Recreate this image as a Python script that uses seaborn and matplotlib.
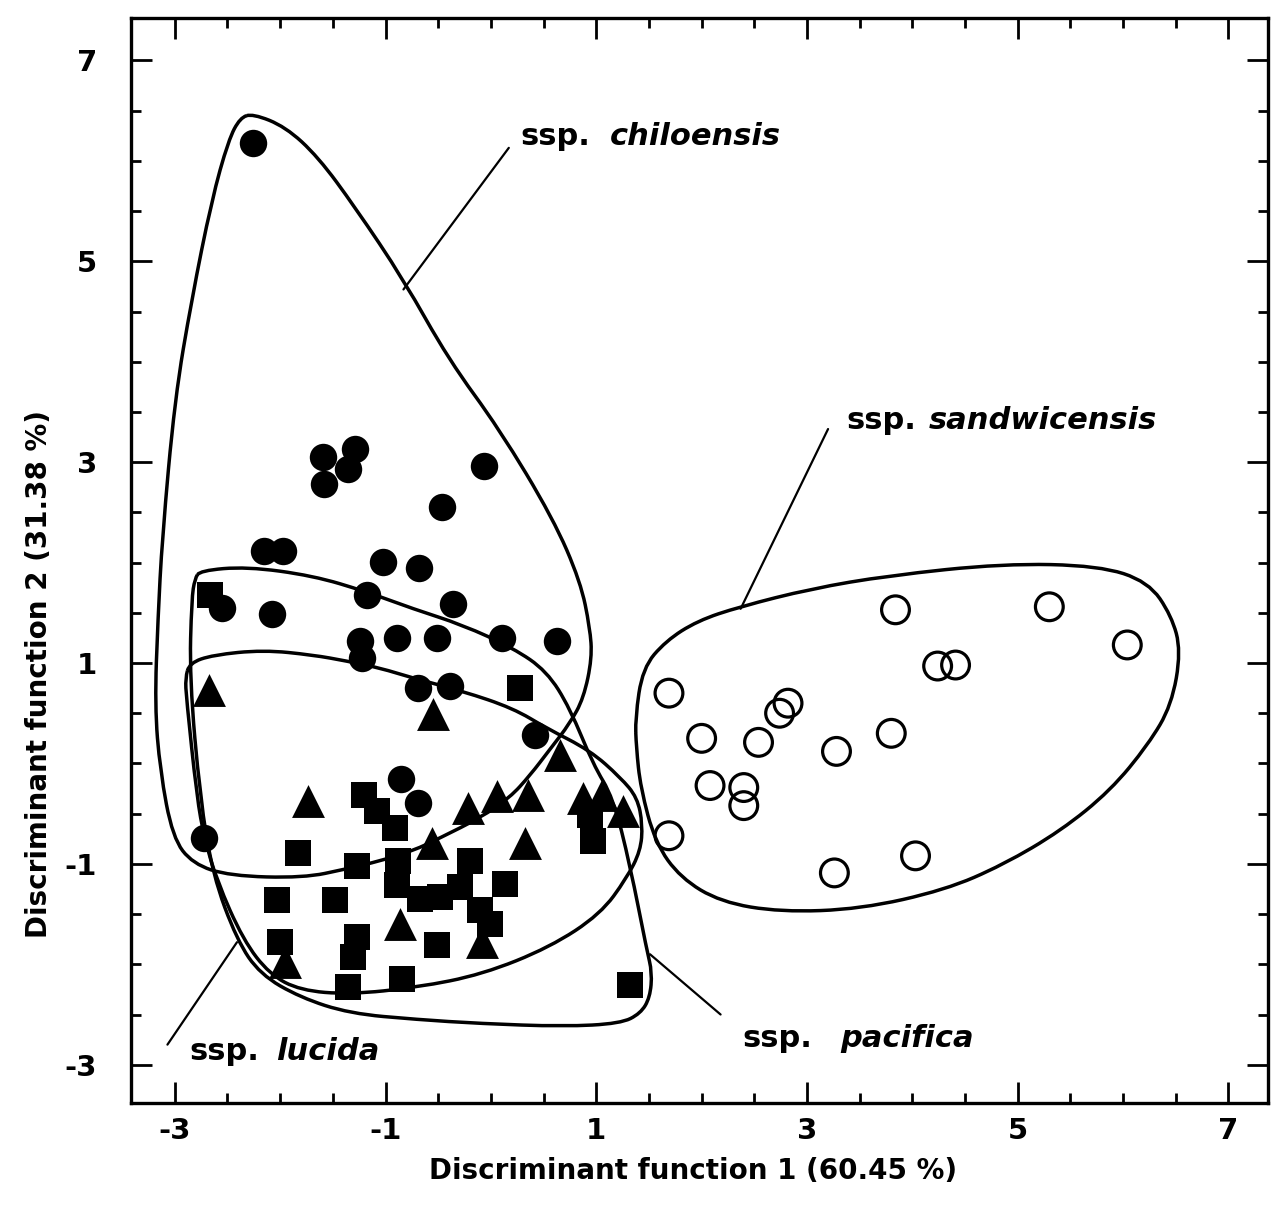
import numpy as np
import pandas as pd

import matplotlib
matplotlib.use('Agg')
import matplotlib.pyplot as plt
from matplotlib.path import Path
from matplotlib.patches import PathPatch
from matplotlib.ticker import MultipleLocator
import seaborn as sns

sns.set_style('ticks')
plt.rcParams['font.family'] = ['DejaVu Sans']
plt.rcParams.update({'text.color': 'black', 'axes.labelcolor': 'black',
                     'xtick.color': 'black', 'ytick.color': 'black',
                     'axes.edgecolor': 'black'})

# =========================
#  DATA
# =========================

# ssp. chiloensis - filled circles
chil_x = [-2.26, -1.59, -1.29, -1.36, -1.58, -0.07, -0.46, -2.15, -1.97, -1.02,
          -0.68, -2.55, -2.08, -1.18, -0.36, -1.24, -1.22, -0.89, -0.51, 0.11,
          0.63, -0.69, -0.39, 0.42, -0.85, -0.69, -2.72]
chil_y = [6.18, 3.05, 3.13, 2.93, 2.78, 2.96, 2.55, 2.12, 2.12, 2.01,
          1.95, 1.55, 1.49, 1.68, 1.59, 1.22, 1.05, 1.25, 1.25, 1.25,
          1.22, 0.75, 0.77, 0.28, -0.15, -0.39, -0.74]

# ssp. lucida - triangles
luc_x = [-2.68, -0.55, 0.66, -1.74, -0.56, -0.22, 0.06, 0.35, 0.87, 1.05,
         1.25, 0.32, -0.86, -0.08, -1.95]
luc_y = [0.73, 0.49, 0.08, -0.37, -0.79, -0.44, -0.32, -0.31, -0.34, -0.31,
         -0.47, -0.79, -1.60, -1.78, -1.98]

# ssp. pacifica - squares
pac_x = [-2.67, 0.28, -1.20, -1.08, -0.91, 0.94, 0.97, -1.83, -1.27, -0.88,
         -0.20, 0.13, -2.03, -1.48, -0.89, -0.67, -0.48, -0.29, -0.10, -0.01,
         -2.00, -1.27, -1.31, -0.51, -1.36, -0.84, 1.32]
pac_y = [1.68, 0.75, -0.31, -0.47, -0.64, -0.51, -0.77, -0.89, -1.02, -0.97,
         -0.97, -1.20, -1.36, -1.36, -1.21, -1.35, -1.33, -1.23, -1.46, -1.60,
         -1.78, -1.73, -1.93, -1.81, -2.23, -2.15, -2.21]

# ssp. sandwicensis - open circles
sand_x = [1.69, 2.82, 2.74, 2.00, 2.54, 3.28, 3.80, 3.84, 5.30, 6.04,
          4.24, 4.41, 2.08, 2.40, 2.40, 1.69, 3.26, 4.03]
sand_y = [0.70, 0.60, 0.50, 0.25, 0.21, 0.12, 0.30, 1.53, 1.56, 1.18,
          0.97, 0.98, -0.22, -0.24, -0.42, -0.72, -1.09, -0.92]

# hand drawn envelopes round each group
chil_hull_x = [-2.26, -1.95, -1.64, -1.29, -0.83, -0.40, 0.08, 0.59, 0.85, 0.94,
               0.96, 0.88, 0.75, 0.56, 0.37, 0.18, -0.10, -0.48, -0.74, -1.05,
               -1.37, -1.78, -2.48, -2.83, -3.02, -3.14, -3.19, -3.16, -3.12, -3.00,
               -2.84, -2.65, -2.49, -2.38]
chil_hull_y = [6.47, 6.34, 6.04, 5.54, 4.82, 4.02, 3.33, 2.44, 1.81, 1.35,
               1.05, 0.65, 0.40, 0.14, -0.12, -0.34, -0.54, -0.74, -0.87, -0.97,
               -1.05, -1.14, -1.12, -1.00, -0.74, -0.07, 0.58, 1.44, 2.24, 3.63,
               4.62, 5.61, 6.21, 6.43]

pac_hull_x = [-2.76, -2.32, -1.69, -1.18, -0.74, -0.27, 0.21, 0.53, 0.75, 0.97,
              1.16, 1.32, 1.48, 1.53, 1.51, 1.42, 1.23, 0.69, -0.10, -0.70,
              -1.34, -1.81, -2.19, -2.41, -2.64, -2.76, -2.86, -2.84, -2.81]
pac_hull_y = [1.92, 1.96, 1.87, 1.71, 1.54, 1.38, 1.15, 0.92, 0.55, -0.01,
              -0.34, -1.01, -1.86, -2.08, -2.33, -2.49, -2.59, -2.62, -2.59, -2.55,
              -2.49, -2.33, -2.10, -1.76, -1.11, -0.34, 0.85, 1.64, 1.84]

luc_hull_x = [-2.86, -2.64, -2.16, -1.69, -1.37, -1.05, -0.74, -0.27, 0.21, 0.53,
              0.94, 1.23, 1.39, 1.44, 1.42, 1.29, 1.04, 0.56, -0.08, -0.70,
              -1.34, -1.81, -2.10, -2.35, -2.60, -2.72, -2.79, -2.89, -2.90]
luc_hull_y = [1.00, 1.08, 1.13, 1.08, 1.02, 0.95, 0.85, 0.72, 0.55, 0.35,
              0.13, -0.14, -0.34, -0.61, -0.87, -1.14, -1.50, -1.83, -2.10, -2.23,
              -2.30, -2.26, -2.10, -1.76, -1.17, -0.74, -0.34, 0.65, 0.85]

sand_hull_x = [1.37, 1.44, 1.66, 1.96, 2.36, 3.04, 3.77, 4.86, 5.77, 6.24,
               6.46, 6.55, 6.46, 6.24, 5.88, 5.41, 4.86, 4.31, 3.51, 2.75,
               2.18, 1.80, 1.56, 1.42, 1.38]
sand_hull_y = [0.45, 0.95, 1.22, 1.42, 1.56, 1.74, 1.87, 1.99, 1.97, 1.81,
               1.47, 1.12, 0.58, 0.19, -0.27, -0.67, -1.01, -1.26, -1.45, -1.48,
               -1.38, -1.14, -0.79, -0.24, 0.16]

# labels: text baseline anchor and the leader line ends
label_names = ['chiloensis', 'sandwicensis', 'lucida', 'pacifica']
label_x = [0.28, 3.37, -2.86, 2.39]
label_y = [6.16, 3.33, -2.95, -2.82]
label_gap = [14, 9, 12, 20]
leader_from_x = [0.17, 3.20, -3.07, 2.18]
leader_from_y = [6.13, 3.33, -2.80, -2.50]
leader_to_x = [-0.83, 2.37, -2.41, 1.51]
leader_to_y = [4.72, 1.54, -1.78, -1.90]

x_ticks = [-3, -1, 1, 3, 5, 7]
y_ticks = [-3, -1, 1, 3, 5, 7]


# =========================
#  HELPERS
# =========================

def closed_curve(xs, ys):
    # quadratic b-spline path through the traced outline, closed
    pts = np.column_stack([xs, ys])
    mids = (pts + np.roll(pts, -1, axis=0)) / 2
    verts = [mids[-1]]
    codes = [Path.MOVETO]
    for p, m in zip(pts, mids):
        verts += [p, m]
        codes += [Path.CURVE3, Path.CURVE3]
    return Path(verts, codes)


# =========================
#  PLOT
# =========================

def main():
    fig = plt.figure(figsize=(12.8, 12.2), dpi=100)
    ax = fig.add_axes([0.102, 0.096, 0.889, 0.889])

    chil = pd.DataFrame({'df1': chil_x, 'df2': chil_y})
    luc = pd.DataFrame({'df1': luc_x, 'df2': luc_y})
    pac = pd.DataFrame({'df1': pac_x, 'df2': pac_y})
    sand = pd.DataFrame({'df1': sand_x, 'df2': sand_y})

    sns.scatterplot(data=chil, x='df1', y='df2', marker='o', s=390,
                    color='black', edgecolor='black', linewidth=0, ax=ax, zorder=3)
    sns.scatterplot(data=luc, x='df1', y='df2', marker='^', s=560,
                    color='black', edgecolor='black', linewidth=0, ax=ax, zorder=3)
    sns.scatterplot(data=pac, x='df1', y='df2', marker='s', s=330,
                    color='black', edgecolor='black', linewidth=0, ax=ax, zorder=3)
    sns.scatterplot(data=sand, x='df1', y='df2', marker='o', s=400,
                    facecolors='none', edgecolor='black', linewidth=2.3, ax=ax, zorder=3)

    for hx, hy in [(chil_hull_x, chil_hull_y), (pac_hull_x, pac_hull_y),
                   (luc_hull_x, luc_hull_y), (sand_hull_x, sand_hull_y)]:
        ax.add_patch(PathPatch(closed_curve(hx, hy), facecolor='none',
                               edgecolor='black', linewidth=2.5, zorder=2))

    for i, name in enumerate(label_names):
        ax.plot([leader_from_x[i], leader_to_x[i]], [leader_from_y[i], leader_to_y[i]],
                color='black', linewidth=1.6)
        ssp = ax.text(label_x[i], label_y[i], 'ssp.', fontsize=22, fontweight='bold',
                      ha='left', va='baseline')
        ax.annotate(name, xy=(1, 0), xycoords=ssp, xytext=(label_gap[i], 0),
                    textcoords='offset points', fontsize=22, fontweight='bold',
                    style='italic', ha='left', va='bottom')

    ax.set_xlim(-3.42, 7.38)
    ax.set_ylim(-3.38, 7.42)
    ax.set_xticks(x_ticks)
    ax.set_yticks(y_ticks)
    ax.set_xticklabels([str(t) for t in x_ticks])
    ax.set_yticklabels([str(t) for t in y_ticks])
    ax.xaxis.set_minor_locator(MultipleLocator(0.5))
    ax.yaxis.set_minor_locator(MultipleLocator(0.5))

    ax.tick_params(which='both', direction='in', top=True, right=True, width=2.0)
    ax.tick_params(which='major', length=15, labelsize=21)
    ax.tick_params(axis='x', which='major', pad=10)
    ax.tick_params(axis='y', which='major', pad=24)
    ax.tick_params(which='minor', length=7)
    for lab in ax.get_xticklabels() + ax.get_yticklabels():
        lab.set_fontweight('bold')

    for spine in ax.spines.values():
        spine.set_linewidth(2.4)

    ax.set_xlabel('Discriminant function 1 (60.45 %)', fontsize=20, fontweight='bold')
    ax.set_ylabel('Discriminant function 2 (31.38 %)', fontsize=20, fontweight='bold')
    ax.xaxis.set_label_coords(0.494, -0.05)
    ax.yaxis.set_label_coords(-0.068, 0.395)

    fig.savefig('out.png', dpi=100)
    plt.close(fig)


if __name__ == '__main__':
    main()
